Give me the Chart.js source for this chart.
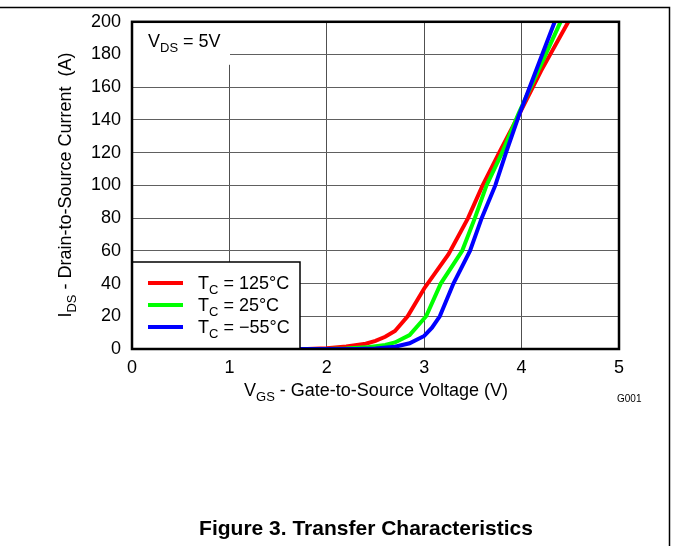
<!DOCTYPE html>
<html>
<head>
<meta charset="utf-8">
<script src="https://cdn.jsdelivr.net/npm/chart.js@4.4.0/dist/chart.umd.min.js"></script>
<style>
html, body { margin: 0; padding: 0; background: #fff; }
#wrap { position: relative; width: 673px; height: 546px; }
</style>
</head>
<body>
<div id="wrap"><canvas id="grafico" width="673" height="546"></canvas></div>
<script>
// valores (VGS en V, IDS en A)
var vgs125 = [0, 1.8, 2.0, 2.2, 2.4, 2.5, 2.6, 2.7, 2.83, 3.0, 3.25, 3.45, 3.6, 3.77, 3.98, 4.2, 4.48];
var ids125 = [0, 0, 0.5, 1.5, 3.2, 5, 7.5, 11, 20, 37, 58, 80, 100, 120, 144, 170, 200];

var vgs25 = [0, 2.0, 2.2, 2.4, 2.6, 2.7, 2.85, 3.02, 3.17, 3.39, 3.52, 3.64, 3.8, 3.97, 4.4];
var ids25 = [0, 0, 0.3, 1, 2.5, 4, 8.5, 20, 40, 60, 80, 100, 120, 144, 200];

var vgsM55 = [0, 2.3, 2.5, 2.7, 2.85, 3.0, 3.08, 3.16, 3.3, 3.47, 3.59, 3.73, 3.84, 3.98, 4.34];
var idsM55 = [0, 0, 0.3, 1.4, 3.5, 8, 13, 20, 40, 60, 80, 100, 120, 144, 200];

var etiquetas = [' = 125°C', ' = 25°C', ' = \u221255°C'];
var colores = ['#ff0000', '#00ff00', '#0000ff'];

var xTicks = [0, 1, 2, 3, 4, 5];
var yTicks = [0, 20, 40, 60, 80, 100, 120, 140, 160, 180, 200];

function puntos(xs, ys) {
    return xs.map(function (v, i) { return { x: v, y: ys[i] }; });
}

// texto con subindice: base + sub + resto
function textoSub(ctx, x, y, base, sub, resto, size, align) {
    var big = size + 'px Arial';
    var small = Math.round(size * 0.72) + 'px Arial';
    ctx.font = big;
    var w1 = ctx.measureText(base).width;
    var w3 = ctx.measureText(resto).width;
    ctx.font = small;
    var w2 = ctx.measureText(sub).width;
    var x0 = align === 'center' ? x - (w1 + w2 + w3) / 2 : x;
    ctx.textAlign = 'left';
    ctx.textBaseline = 'alphabetic';
    ctx.fillStyle = '#000';
    ctx.font = big;
    ctx.fillText(base, x0, y);
    ctx.font = small;
    ctx.fillText(sub, x0 + w1, y + size * 0.28);
    ctx.font = big;
    ctx.fillText(resto, x0 + w1 + w2, y);
}

var extras = {
    id: 'extras',
    afterDatasetsDraw: function (chart) {
        var ctx = chart.ctx;
        var a = chart.chartArea;
        ctx.save();
        // caja VDS
        ctx.fillStyle = '#fff';
        ctx.fillRect(a.left, a.top, 98, 43);
        textoSub(ctx, 148, 47, 'V', 'DS', ' = 5V', 18, 'left');

        // leyenda
        ctx.fillStyle = '#fff';
        ctx.fillRect(a.left, 262, 168, a.bottom - 262);
        ctx.strokeStyle = '#000';
        ctx.lineWidth = 1.5;
        ctx.strokeRect(a.left, 262, 168, a.bottom - 262);
        chart.data.datasets.forEach(function (ds, i) {
            var yy = 283 + i * 22;
            ctx.strokeStyle = ds.borderColor;
            ctx.lineWidth = 4;
            ctx.beginPath();
            ctx.moveTo(148, yy);
            ctx.lineTo(183, yy);
            ctx.stroke();
            textoSub(ctx, 198, yy + 6, 'T', 'C', etiquetas[i], 18, 'left');
        });

        // marco del grafico
        ctx.strokeStyle = '#000';
        ctx.lineWidth = 2.5;
        ctx.strokeRect(a.left, a.top, a.right - a.left, a.bottom - a.top);
        ctx.restore();
    },
    afterDraw: function (chart) {
        var ctx = chart.ctx;
        ctx.save();
        // titulos de ejes
        textoSub(ctx, 376, 396, 'V', 'GS', ' - Gate-to-Source Voltage (V)', 18, 'center');
        ctx.save();
        ctx.translate(65, 185);
        ctx.rotate(-Math.PI / 2);
        textoSub(ctx, 0, 6, 'I', 'DS', ' - Drain-to-Source Current  (A)', 18, 'center');
        ctx.restore();

        ctx.fillStyle = '#000';
        ctx.font = '10px Arial';
        ctx.textAlign = 'left';
        ctx.fillText('G001', 617, 402);

        ctx.font = 'bold 21px Arial';
        ctx.textAlign = 'center';
        ctx.fillText('Figure 3. Transfer Characteristics', 366, 535);

        // lineas de pagina
        ctx.strokeStyle = '#000';
        ctx.lineWidth = 1.5;
        ctx.beginPath();
        ctx.moveTo(0, 7.5);
        ctx.lineTo(669.5, 7.5);
        ctx.lineTo(669.5, 546);
        ctx.stroke();
        ctx.restore();
    }
};

window.onload = function () {
    var ctx = document.getElementById('grafico').getContext('2d');
    var series = [puntos(vgs125, ids125), puntos(vgs25, ids25), puntos(vgsM55, idsM55)];
    new Chart(ctx, {
        type: 'line',
        data: {
            datasets: series.map(function (d, i) {
                return {
                    label: 'TC' + etiquetas[i],
                    data: d,
                    borderColor: colores[i],
                    borderWidth: 4,
                    pointRadius: 0,
                    tension: 0,
                    fill: false,
                    order: 3 - i
                };
            })
        },
        options: {
            responsive: false,
            animation: false,
            layout: { padding: { top: 20, right: 54, left: 0, bottom: 0 } },
            plugins: { legend: { display: false }, tooltip: { enabled: false } },
            scales: {
                x: {
                    type: 'linear',
                    min: 0,
                    max: 5,
                    afterBuildTicks: function (s) { s.ticks = xTicks.map(function (v) { return { value: v }; }); },
                    afterFit: function (s) { s.height = 197; },
                    grid: { color: '#505050', lineWidth: 1, drawTicks: false },
                    border: { display: false },
                    ticks: { color: '#000', padding: 8, font: { family: 'Arial', size: 18 } }
                },
                y: {
                    min: 0,
                    max: 200,
                    afterBuildTicks: function (s) { s.ticks = yTicks.map(function (v) { return { value: v }; }); },
                    afterFit: function (s) { s.width = 132; },
                    grid: { color: '#606060', lineWidth: 1, drawTicks: false },
                    border: { display: false },
                    ticks: { color: '#000', padding: 11, font: { family: 'Arial', size: 18 } }
                }
            }
        },
        plugins: [extras]
    });
};
</script>
</body>
</html>
